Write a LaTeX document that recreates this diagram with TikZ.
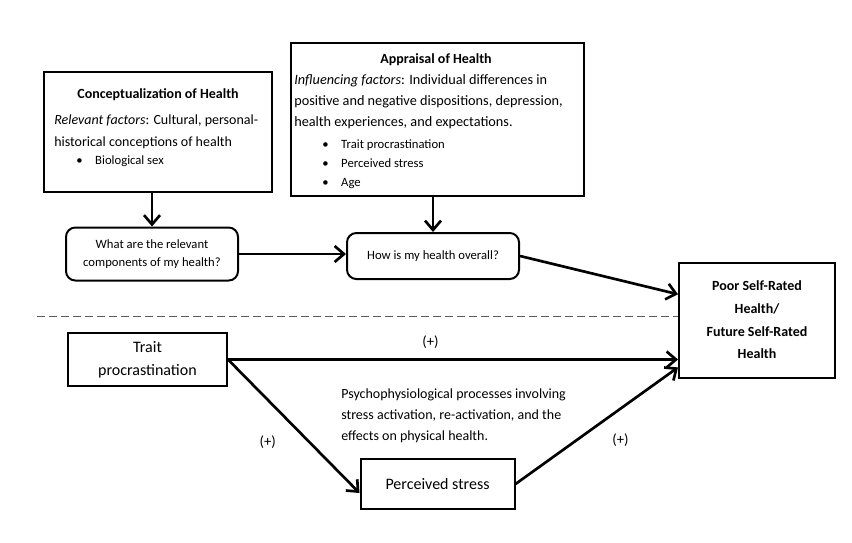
\documentclass[tikz,border=0pt]{standalone}
\usepackage{fontspec}
\setmainfont{Carlito}
\usetikzlibrary{positioning,calc,arrows.meta}
\tikzset{
  >={Straight Barb[length=7pt,width=12pt]},
  my box/.style={
    draw,
    line width=1.5pt,
    rectangle,
    inner sep=0pt
  },
  my question/.style={
    draw,
    line width=1.5pt,
    rounded corners=7pt,
    align=center,
    font=\fontsize{9.5}{13.5}\selectfont
  },
  my head/.style={font=\fontsize{10.5}{12}\selectfont\bfseries},
  my text/.style={
    align=left,
    inner sep=0pt,
    font=\fontsize{10.5}{16}\selectfont
  },
  my list/.style={
    align=left,
    inner sep=0pt,
    font=\fontsize{9.5}{14.25}\selectfont
  },
  my link/.style={->,line width=2pt},
  my sign/.style={font=\fontsize{11}{13}\selectfont}
}
\newcommand{\itm}[1]{\textbullet\hspace{9.5pt}#1}

\begin{document}
\begin{tikzpicture}[x=0.75pt,y=-0.75pt]
\useasboundingbox (0,0) rectangle (852,542);
% upper part
\node[my box,minimum width=171pt,minimum height=90pt] (concept) at (158,132) {};
\node[my head] (concepthead) at (158,95) {Conceptualization of Health};
\node[my text,anchor=north west] (conceptbody) at (54,115) {\textit{Relevant factors}: Cultural, personal-\\historical conceptions of health};
\node[my list,anchor=west] (conceptlist) at (76,161) {\itm{Biological sex}};

\node[my box,minimum width=219.75pt,minimum height=114.75pt] (appraisal) at (437.5,119.5) {};
\node[my head] (appraisalhead) at (436,60) {Appraisal of Health};
\node[my text,anchor=north west,font=\fontsize{10.7}{16}\selectfont] (appraisalbody) at (294,74) {\textit{Influencing factors}: Individual differences in\\positive and negative dispositions, depression,\\health experiences, and expectations.};
\node[my list,anchor=north west] (appraisallist) at (322,139) {\itm{Trait procrastination}\\\itm{Perceived stress}\\\itm{Age}};

\node[my question,minimum width=129pt,minimum height=39.75pt] (whatq) at (152,254) {What are the relevant\\components of my health?};
\node[my question,minimum width=129pt,minimum height=34.5pt] (howq) at (433,256) {How is my health overall?};

\node[my box,minimum width=117pt,minimum height=86.25pt,align=center,font=\fontsize{10.5}{17}\selectfont\bfseries] (srh) at (757,320) {Poor Self-Rated\\Health/\\Future Self-Rated\\Health};

\draw[my link] (whatq.north |- concept.south) -- (whatq.north);
\draw[my link] (howq.north |- appraisal.south) -- (howq.north);
\draw[my link] (whatq.east) -- (whatq.east -| howq.west);
\draw[my link] (howq.east) -- ($(srh.north west)!0.28!(srh.south west)$);

% separator
\coordinate (dashstart) at (37,316);
\draw[dashed,gray!70!black,line width=0.75pt,dash pattern=on 6pt off 3pt] (dashstart) -- (dashstart -| srh.west);

% lower part
\node[my box,minimum width=119.25pt,minimum height=40pt,align=center,font=\fontsize{12}{17}\selectfont] (trait) at (147.5,359.5) {Trait\\procrastination};
\node[my box,minimum width=115.5pt,minimum height=37.5pt,font=\fontsize{12}{14}\selectfont] (stress) at (437.5,484) {Perceived stress};
\node[my text,anchor=north west,font=\fontsize{10.5}{15.5}\selectfont] (process) at (341,389) {Psychophysiological processes involving\\stress activation, re-activation, and the\\effects on physical health.};

\draw[my link] (trait.east) -- (trait.east -| srh.west) node[my sign,pos=0.45,above=4pt] (signa) {(+)};
\draw[my link] (trait.east) -- ($(stress.west)+(0,9)$) node[my sign,pos=0.62,left=21pt] (signb) {(+)};
\draw[my link] (stress.east) -- ($(srh.north west)!0.905!(srh.south west)$) node[my sign,pos=0.38,right=22pt] (signc) {(+)};
\end{tikzpicture}
\end{document}
